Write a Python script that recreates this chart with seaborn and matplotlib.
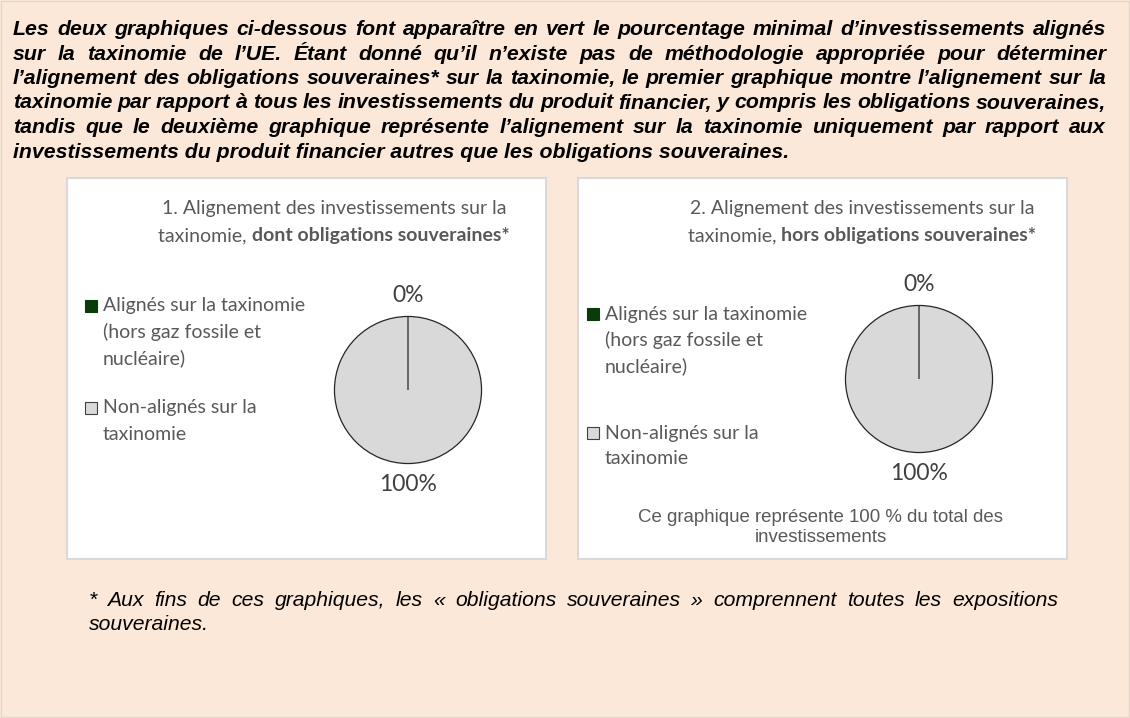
import matplotlib
matplotlib.use("Agg")
import matplotlib.pyplot as plt
from matplotlib.patches import Rectangle
from matplotlib.font_manager import FontProperties
import seaborn as sns

# ---- data ----
categories = ["Alignés sur la taxinomie\n(hors gaz fossile et\nnucléaire)",
              "Non-alignés sur la\ntaxinomie"]
chart1_values = [0, 100]   # dont obligations souveraines
chart2_values = [0, 100]   # hors obligations souveraines
chart_titles_regular = ["1. Alignement des investissements sur la\ntaxinomie, ",
                        "2. Alignement des investissements sur la\ntaxinomie, "]
chart_titles_bold = ["dont obligations souveraines*", "hors obligations souveraines*"]
chart2_note = "Ce graphique représente 100 % du total des\ninvestissements"
header_lines = [
    "Les deux graphiques ci-dessous font apparaître en vert le pourcentage minimal d’investissements alignés",
    "sur la taxinomie de l’UE. Étant donné qu’il n’existe pas de méthodologie appropriée pour déterminer",
    "l’alignement des obligations souveraines* sur la taxinomie, le premier graphique montre l’alignement sur la",
    "taxinomie par rapport à tous les investissements du produit financier, y compris les obligations souveraines,",
    "tandis que le deuxième graphique représente l’alignement sur la taxinomie uniquement par rapport aux",
    "investissements du produit financier autres que les obligations souveraines.",
]
footnote_lines = [
    "* Aux fins de ces graphiques, les « obligations souveraines » comprennent toutes les expositions",
    "souveraines.",
]

# ---- style ----
sns.set_theme(style="white")
plt.rcParams["font.family"] = ["Lato", "DejaVu Sans"]
W, H = 1130, 718
BG = "#FBE8D8"
GREEN = "#0B3A0B"
GREY = "#D9D9D9"
palette = sns.color_palette([GREEN, GREY])
TXT = "#595959"

fig = plt.figure(figsize=(W / 100, H / 100), dpi=100, facecolor=BG)
renderer = fig.canvas.get_renderer()


def fx(x):
    return x / W


def fy(y):
    return 1 - y / H


def width_of(s, fp):
    t = fig.text(0, 0, s, fontproperties=fp)
    w = t.get_window_extent(renderer=renderer).width
    t.remove()
    return w


def justified(line, x0, x1, y, fp, color="black", justify=True):
    words = line.split(" ")
    if not justify or len(words) < 2:
        fig.text(fx(x0), fy(y), line, fontproperties=fp, color=color,
                 ha="left", va="baseline")
        return
    widths = [width_of(w, fp) for w in words]
    gap = (x1 - x0 - sum(widths)) / (len(words) - 1)
    x = x0
    for w, wd in zip(words, widths):
        fig.text(fx(x), fy(y), w, fontproperties=fp, color=color,
                 ha="left", va="baseline")
        x += wd + gap


# outer frame
fig.add_artist(Rectangle((fx(1), fy(717)), fx(1128), 716 / H, transform=fig.transFigure,
                         facecolor="none", edgecolor="#E3D6CB", lw=1, zorder=-2))

# header paragraph
fp_head = FontProperties(family="Liberation Sans", weight="bold", style="italic", size=15.3)
for i, line in enumerate(header_lines):
    justified(line, 13, 1106, 35 + i * 24.5, fp_head, justify=(i < len(header_lines) - 1))

# footnote
fp_foot = FontProperties(family="Liberation Sans", style="italic", size=15.2)
for i, line in enumerate(footnote_lines):
    justified(line, 89, 1058, 606 + i * 24, fp_foot, justify=(i < len(footnote_lines) - 1))

# chart panels
panels = [
    dict(x0=67, x1=546, y0=178, y1=559, cx=408, cy=390, r=75, tcx=334,
         leg_sq=85, leg_tx=103, leg_y=[306, 408], values=chart1_values),
    dict(x0=578, x1=1067, y0=178, y1=559, cx=919, cy=379, r=75, tcx=862,
         leg_sq=587, leg_tx=605, leg_y=[314, 433], values=chart2_values),
]

fp_reg = FontProperties(family="Lato", size=14)
fp_bold = FontProperties(family="Lato", weight="bold", size=14)
fp_leg = FontProperties(family="Lato", size=14)
fp_pct = FontProperties(family="Lato", size=16.5)

for k, p in enumerate(panels):
    fig.add_artist(Rectangle((fx(p["x0"]), fy(p["y1"])), (p["x1"] - p["x0"]) / W,
                             (p["y1"] - p["y0"]) / H, transform=fig.transFigure,
                             facecolor="white", edgecolor="#D9D9D9", lw=1.5, zorder=-1))

    # title: regular first line, then regular + bold second line, centred
    reg1, reg2 = chart_titles_regular[k].split("\n")
    w1 = width_of(reg1, fp_reg)
    fig.text(fx(p["tcx"] - w1 / 2), fy(214), reg1, fontproperties=fp_reg, color=TXT,
             ha="left", va="baseline")
    w2a = width_of(reg2.rstrip() + " ", fp_reg)
    w2b = width_of(chart_titles_bold[k], fp_bold)
    xs = p["tcx"] - (w2a + w2b) / 2
    fig.text(fx(xs), fy(241), reg2.rstrip() + " ", fontproperties=fp_reg, color=TXT,
             ha="left", va="baseline")
    fig.text(fx(xs + w2a), fy(241), chart_titles_bold[k], fontproperties=fp_bold,
             color=TXT, ha="left", va="baseline")

    # pie
    r = p["r"]
    ax = fig.add_axes([fx(p["cx"] - r), fy(p["cy"] + r), 2 * r / W, 2 * r / H])
    ax.set_zorder(5)
    ax.set_facecolor("none")
    wedges, _, autotexts = ax.pie(
        p["values"], colors=palette, startangle=90, counterclock=False,
        autopct="%.0f%%", pctdistance=1.29, radius=1,
        wedgeprops=dict(edgecolor="#262626", linewidth=0.9),
        textprops=dict(fontproperties=fp_pct, color="#404040"),
    )
    # keep the thin aligned slice (its edge line) above the large one
    wedges[0].set_zorder(wedges[1].get_zorder() + 1)
    for t in autotexts:
        t.set_clip_on(False)
    ax.set_xlim(-1.02, 1.02)
    ax.set_ylim(-1.02, 1.02)
    ax.axis("off")

    # legend
    sq = 12
    for j, lab in enumerate(categories):
        y = p["leg_y"][j]
        fig.add_artist(Rectangle((fx(p["leg_sq"]), fy(y + sq / 2)), sq / W, sq / H,
                                 transform=fig.transFigure, facecolor=palette[j],
                                 edgecolor="#404040" if j == 1 else palette[j], lw=0.8))
        for li, part in enumerate(lab.split("\n")):
            fig.text(fx(p["leg_tx"]), fy(y + li * 26), part, fontproperties=fp_leg,
                     color=TXT, ha="left", va="center")

# note under the second chart
fp_note = FontProperties(family="Liberation Sans", size=13.4)
for i, line in enumerate(chart2_note.split("\n")):
    fig.text(fx(821), fy(518 + i * 20), line, fontproperties=fp_note, color=TXT,
             ha="center", va="center")

fig.savefig("out.png", dpi=100, facecolor=BG)
